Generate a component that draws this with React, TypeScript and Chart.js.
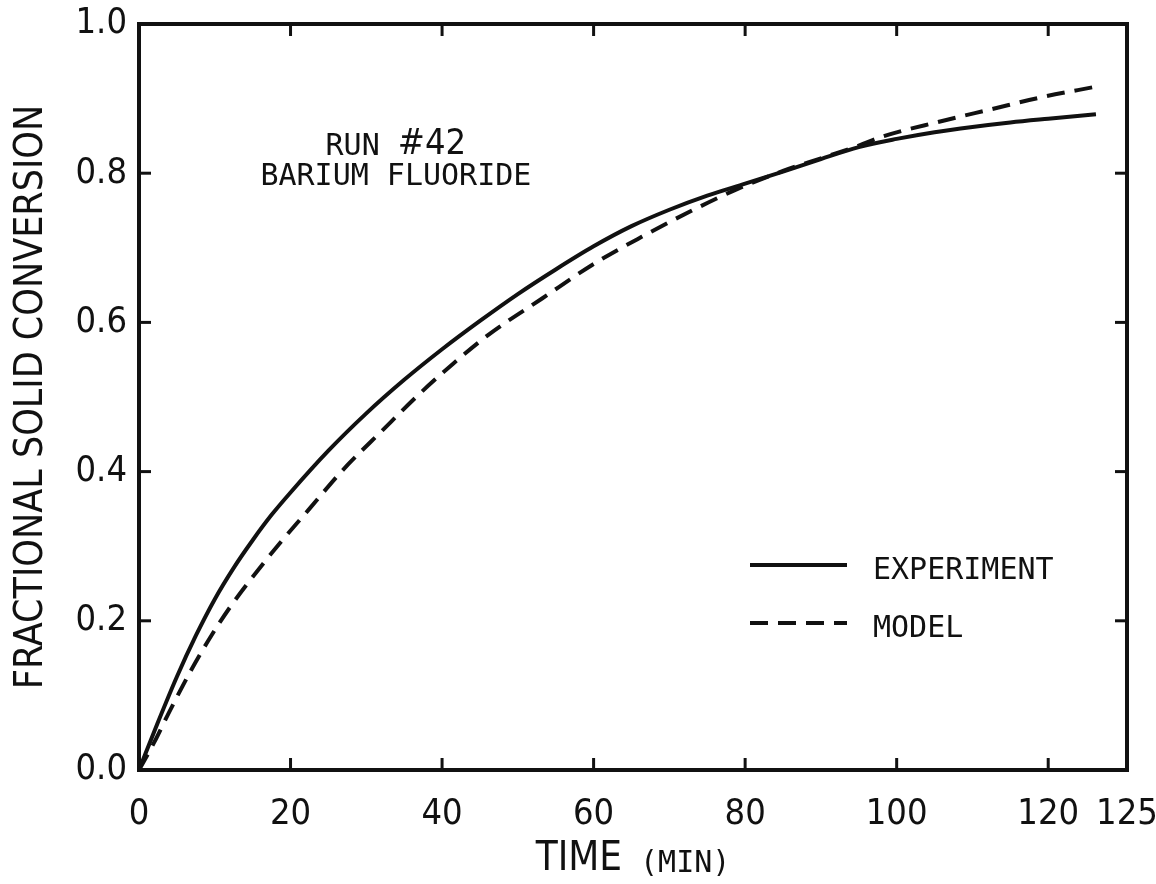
import React, { useEffect, useRef } from "react";
import { Chart, registerables } from "chart.js";

Chart.register(...registerables);

// ---------- data ----------
const TIME_EXPERIMENT = [0, 2.5, 5, 7.5, 10, 12.5, 15, 17.5, 20, 25, 30, 35, 40, 45, 50, 55, 60, 65, 70, 75, 80, 85, 90, 95, 100, 105, 110, 115, 120, 126.3];
const CONV_EXPERIMENT = [0, 0.064, 0.125, 0.18, 0.229, 0.271, 0.308, 0.342, 0.372, 0.428, 0.478, 0.523, 0.564, 0.602, 0.638, 0.671, 0.702, 0.729, 0.751, 0.77, 0.786, 0.802, 0.819, 0.835, 0.846, 0.855, 0.862, 0.868, 0.873, 0.879];

const TIME_MODEL = [0, 2, 4, 7, 9.6, 12, 14.1, 18.5, 22.4, 26.8, 32.1, 37, 41.5, 46.2, 53.2, 59.8, 66.4, 73, 78.8, 85, 90, 95, 98.1, 105.6, 112.6, 119.2, 126.3];
const CONV_MODEL = [0, 0.037, 0.078, 0.136, 0.181, 0.218, 0.247, 0.303, 0.349, 0.401, 0.455, 0.504, 0.545, 0.584, 0.632, 0.677, 0.715, 0.75, 0.778, 0.803, 0.82, 0.837, 0.849, 0.869, 0.886, 0.902, 0.916];

const SERIES_NAMES = ["EXPERIMENT", "MODEL"];
const X_TICKS = [0, 20, 40, 60, 80, 100, 120];
const X_EDGE_LABEL = "125";
const Y_TICKS = [0, 0.2, 0.4, 0.6, 0.8, 1.0];
const X_MIN = 0;
const X_MAX = 130.4;
const Y_MIN = 0;
const Y_MAX = 1;
const Y_TITLE = "FRACTIONAL SOLID CONVERSION";
const X_TITLE_MAIN = "TIME";
const X_TITLE_UNIT = "(MIN)";
const NOTE_RUN = "RUN";
const NOTE_NUMBER = "#42";
const NOTE_MATERIAL = "BARIUM FLUORIDE";
const NOTE_X = 33.9;
const NOTE_Y = [0.835, 0.795];

// ---------- styling ----------
const INK = "#111111";
const COND = '"DejaVu Sans Condensed", "Liberation Sans Narrow", "DejaVu Sans", sans-serif';
const MONO = '"DejaVu Sans Mono", "Liberation Mono", monospace';

const toPoints = (xs: number[], ys: number[]) => xs.map((x, i) => ({ x, y: ys[i] }));

const decorPlugin = {
  id: "decor",
  beforeDraw(chart: any) {
    const { ctx, width, height } = chart;
    ctx.save();
    ctx.fillStyle = "#ffffff";
    ctx.fillRect(0, 0, width, height);
    ctx.restore();
  },
  afterDraw(chart: any) {
    const { ctx, chartArea: a, scales } = chart;
    const xs = scales.x;
    const ys = scales.y;
    ctx.save();
    ctx.strokeStyle = INK;
    ctx.fillStyle = INK;
    ctx.lineCap = "butt";

    // frame
    ctx.lineWidth = 4;
    ctx.strokeRect(a.left, a.top, a.right - a.left, a.bottom - a.top);

    // inward tick marks on all four sides
    const TL = 12;
    ctx.lineWidth = 3;
    const seg = (x1: number, y1: number, x2: number, y2: number) => {
      ctx.beginPath();
      ctx.moveTo(x1, y1);
      ctx.lineTo(x2, y2);
      ctx.stroke();
    };
    xs.ticks.forEach((t: any) => {
      if (t.value <= X_MIN || t.value >= X_MAX) return;
      const px = xs.getPixelForValue(t.value);
      seg(px, a.bottom, px, a.bottom - TL);
      seg(px, a.top, px, a.top + TL);
    });
    ys.ticks.forEach((t: any) => {
      if (t.value <= Y_MIN || t.value >= Y_MAX) return;
      const py = ys.getPixelForValue(t.value);
      seg(a.left, py, a.left + TL, py);
      seg(a.right, py, a.right - TL, py);
    });

    // annotation
    ctx.textBaseline = "middle";
    ctx.textAlign = "left";
    const nx = xs.getPixelForValue(NOTE_X);
    ctx.font = `30px ${MONO}`;
    const wRun = ctx.measureText(NOTE_RUN + " ").width;
    ctx.font = `36px ${COND}`;
    const wNum = ctx.measureText(NOTE_NUMBER).width;
    const runStart = nx - (wRun + wNum) / 2;
    const ry = ys.getPixelForValue(NOTE_Y[0]);
    ctx.font = `30px ${MONO}`;
    ctx.fillText(NOTE_RUN, runStart, ry);
    ctx.font = `36px ${COND}`;
    ctx.fillText(NOTE_NUMBER, runStart + wRun, ry - 2);
    ctx.font = `30px ${MONO}`;
    ctx.textAlign = "center";
    ctx.fillText(NOTE_MATERIAL, nx, ys.getPixelForValue(NOTE_Y[1]));

    // legend
    const lx0 = a.right - 377;
    const lx1 = a.right - 280;
    const tx = a.right - 254;
    chart.data.datasets.forEach((ds: any, i: number) => {
      const ly = a.bottom - 205 + i * 58;
      ctx.save();
      ctx.lineWidth = ds.borderWidth;
      ctx.setLineDash(ds.borderDash || []);
      ctx.beginPath();
      ctx.moveTo(lx0, ly);
      ctx.lineTo(lx1, ly);
      ctx.stroke();
      ctx.restore();
      ctx.font = `30px ${MONO}`;
      ctx.textAlign = "left";
      ctx.textBaseline = "middle";
      ctx.fillText(ds.label, tx, ly + 6);
    });

    // x-axis title: large "TIME" followed by smaller "(MIN)"
    const cx = (a.left + a.right) / 2;
    const ty = a.bottom + 90;
    ctx.font = `40px ${COND}`;
    const w1 = ctx.measureText(X_TITLE_MAIN).width;
    ctx.font = `30px ${MONO}`;
    const w2 = ctx.measureText(X_TITLE_UNIT).width;
    const gap = 18;
    const sx = cx - (w1 + gap + w2) / 2;
    ctx.textAlign = "left";
    ctx.font = `40px ${COND}`;
    ctx.fillText(X_TITLE_MAIN, sx, ty);
    ctx.font = `30px ${MONO}`;
    ctx.fillText(X_TITLE_UNIT, sx + w1 + gap, ty + 4);

    ctx.restore();
  },
};

export default function App() {
  const canvasRef = useRef<HTMLCanvasElement | null>(null);

  useEffect(() => {
    const canvas = canvasRef.current;
    if (!canvas) return;
    const chart = new Chart(canvas, {
      type: "line",
      data: {
        datasets: [
          {
            label: SERIES_NAMES[0],
            data: toPoints(TIME_EXPERIMENT, CONV_EXPERIMENT),
            borderColor: INK,
            borderWidth: 4,
            pointRadius: 0,
            cubicInterpolationMode: "monotone",
            fill: false,
          },
          {
            label: SERIES_NAMES[1],
            data: toPoints(TIME_MODEL, CONV_MODEL),
            borderColor: INK,
            borderWidth: 4,
            borderDash: [18, 10],
            pointRadius: 0,
            cubicInterpolationMode: "monotone",
            fill: false,
          },
        ],
      },
      plugins: [decorPlugin],
      options: {
        animation: false,
        responsive: false,
        devicePixelRatio: 1,
        events: [],
        layout: { padding: { top: 24, right: 29, left: 0, bottom: 0 } },
        plugins: {
          legend: { display: false },
          tooltip: { enabled: false },
          title: { display: false },
        },
        scales: {
          x: {
            type: "linear",
            min: X_MIN,
            max: X_MAX,
            grid: { display: false, drawTicks: false },
            border: { display: false },
            afterBuildTicks: (scale: any) => {
              scale.ticks = [...X_TICKS, X_MAX].map((v) => ({ value: v }));
            },
            afterFit: (scale: any) => {
              scale.height = 114;
              scale.paddingLeft = 0;
              scale.paddingRight = 0;
              scale.paddingTop = 0;
              scale.paddingBottom = 0;
            },
            ticks: {
              color: INK,
              padding: 23,
              maxRotation: 0,
              autoSkip: false,
              font: { family: COND, size: 36 },
              callback: (v: any) => (v === X_MAX ? X_EDGE_LABEL : String(v)),
            },
          },
          y: {
            type: "linear",
            min: Y_MIN,
            max: Y_MAX,
            grid: { display: false, drawTicks: false },
            border: { display: false },
            afterBuildTicks: (scale: any) => {
              scale.ticks = Y_TICKS.map((v) => ({ value: v }));
            },
            afterFit: (scale: any) => {
              scale.width = 139;
              scale.paddingLeft = 0;
              scale.paddingRight = 0;
              scale.paddingTop = 0;
              scale.paddingBottom = 0;
            },
            ticks: {
              color: INK,
              padding: 12,
              font: { family: COND, size: 36 },
              callback: (v: any) => Number(v).toFixed(1),
            },
            title: {
              display: true,
              text: Y_TITLE,
              color: INK,
              font: { family: COND, size: 39 },
              padding: { top: 8, bottom: 0 },
            },
          },
        },
      },
    });
    return () => chart.destroy();
  }, []);

  return (
    <div style={{ position: "absolute", left: 0, top: 0, width: 1156, height: 884, background: "#fff" }}>
      <canvas ref={canvasRef} width={1156} height={884} style={{ display: "block", width: 1156, height: 884 }} />
    </div>
  );
}
